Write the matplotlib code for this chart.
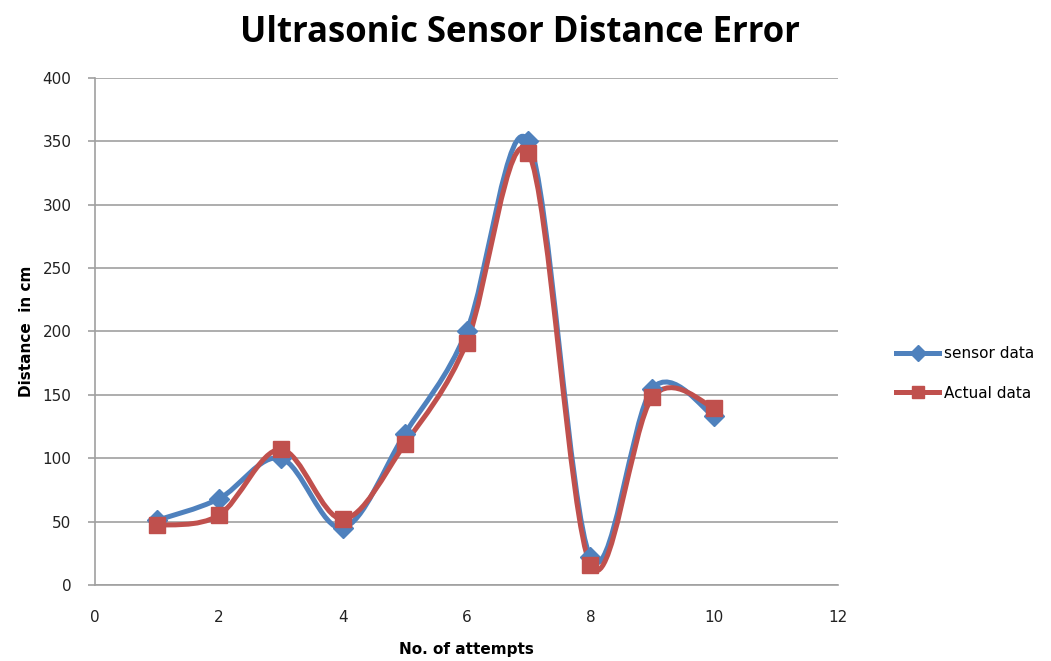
import numpy as np
import matplotlib
matplotlib.use("Agg")
import matplotlib.pyplot as plt
from matplotlib.path import Path
from matplotlib.patches import PathPatch

# data
attempts = [1, 2, 3, 4, 5, 6, 7, 8, 9, 10]
sensor_data = [51, 68, 100, 45, 119, 200, 350, 22, 155, 133]
actual_data = [47, 55, 107, 52, 111, 191, 341, 16, 148, 140]

BLUE = "#4F81BD"
RED = "#C0504D"


def smooth_path(xs, ys):
    """Excel-like smoothed line: cubic Bezier segments through the points."""
    pts = np.column_stack([xs, ys]).astype(float)
    n = len(pts)
    verts = [pts[0]]
    codes = [Path.MOVETO]
    for i in range(n - 1):
        p0 = pts[i - 1] if i > 0 else pts[i]
        p1 = pts[i]
        p2 = pts[i + 1]
        p3 = pts[i + 2] if i + 2 < n else pts[i + 1]
        c1 = p1 + (p2 - p0) / 6.0
        c2 = p2 - (p3 - p1) / 6.0
        verts += [c1, c2, p2]
        codes += [Path.CURVE4] * 3
    return Path(verts, codes)


fig = plt.figure(figsize=(10.51, 6.61), dpi=100)
ax = fig.add_axes([0.0904, 0.115, 0.707, 0.767])

for ys, col, mk, ms, lab in [(sensor_data, BLUE, "D", 10, "sensor data"),
                             (actual_data, RED, "s", 11, "Actual data")]:
    patch = PathPatch(smooth_path(attempts, ys), facecolor="none",
                      edgecolor=col, lw=3.6, zorder=3, capstyle="round",
                      joinstyle="round")
    ax.add_patch(patch)
    ax.plot(attempts, ys, linestyle="none", marker=mk, ms=ms, color=col,
            zorder=4)
    # legend proxy
    ax.plot([], [], color=col, lw=3.6, marker=mk, ms=ms * 0.8, label=lab)

ax.set_xlim(0, 12)
ax.set_ylim(0, 400)
ax.set_xticks(range(0, 13, 2))
ax.set_yticks(range(0, 401, 50))
ax.yaxis.grid(True, color="#A0A0A0", lw=1.2)
ax.set_axisbelow(True)
for s in ["top", "right"]:
    ax.spines[s].set_visible(False)
for s in ["left", "bottom"]:
    ax.spines[s].set_color("#A0A0A0")
    ax.spines[s].set_linewidth(1.2)
ax.tick_params(axis="both", colors="#A0A0A0", width=1.2,
               labelcolor="#222222", labelsize=11)
ax.tick_params(axis="y", length=5, pad=12)
ax.tick_params(axis="x", length=0, pad=18)

ax.set_ylabel("Distance  in cm", fontsize=11, fontweight="bold", labelpad=6)
ax.set_xlabel("No. of attempts", fontsize=11, fontweight="bold", labelpad=12)
fig.suptitle("Ultrasonic Sensor Distance Error", fontsize=25,
             fontweight="bold", family="Open Sans", x=0.495, y=0.978)

ax.legend(loc="center left", bbox_to_anchor=(1.06, 0.417), frameon=False,
          fontsize=11, handlelength=2.8, labelspacing=1.6, handletextpad=0.3)

fig.savefig("out.png", dpi=100)
